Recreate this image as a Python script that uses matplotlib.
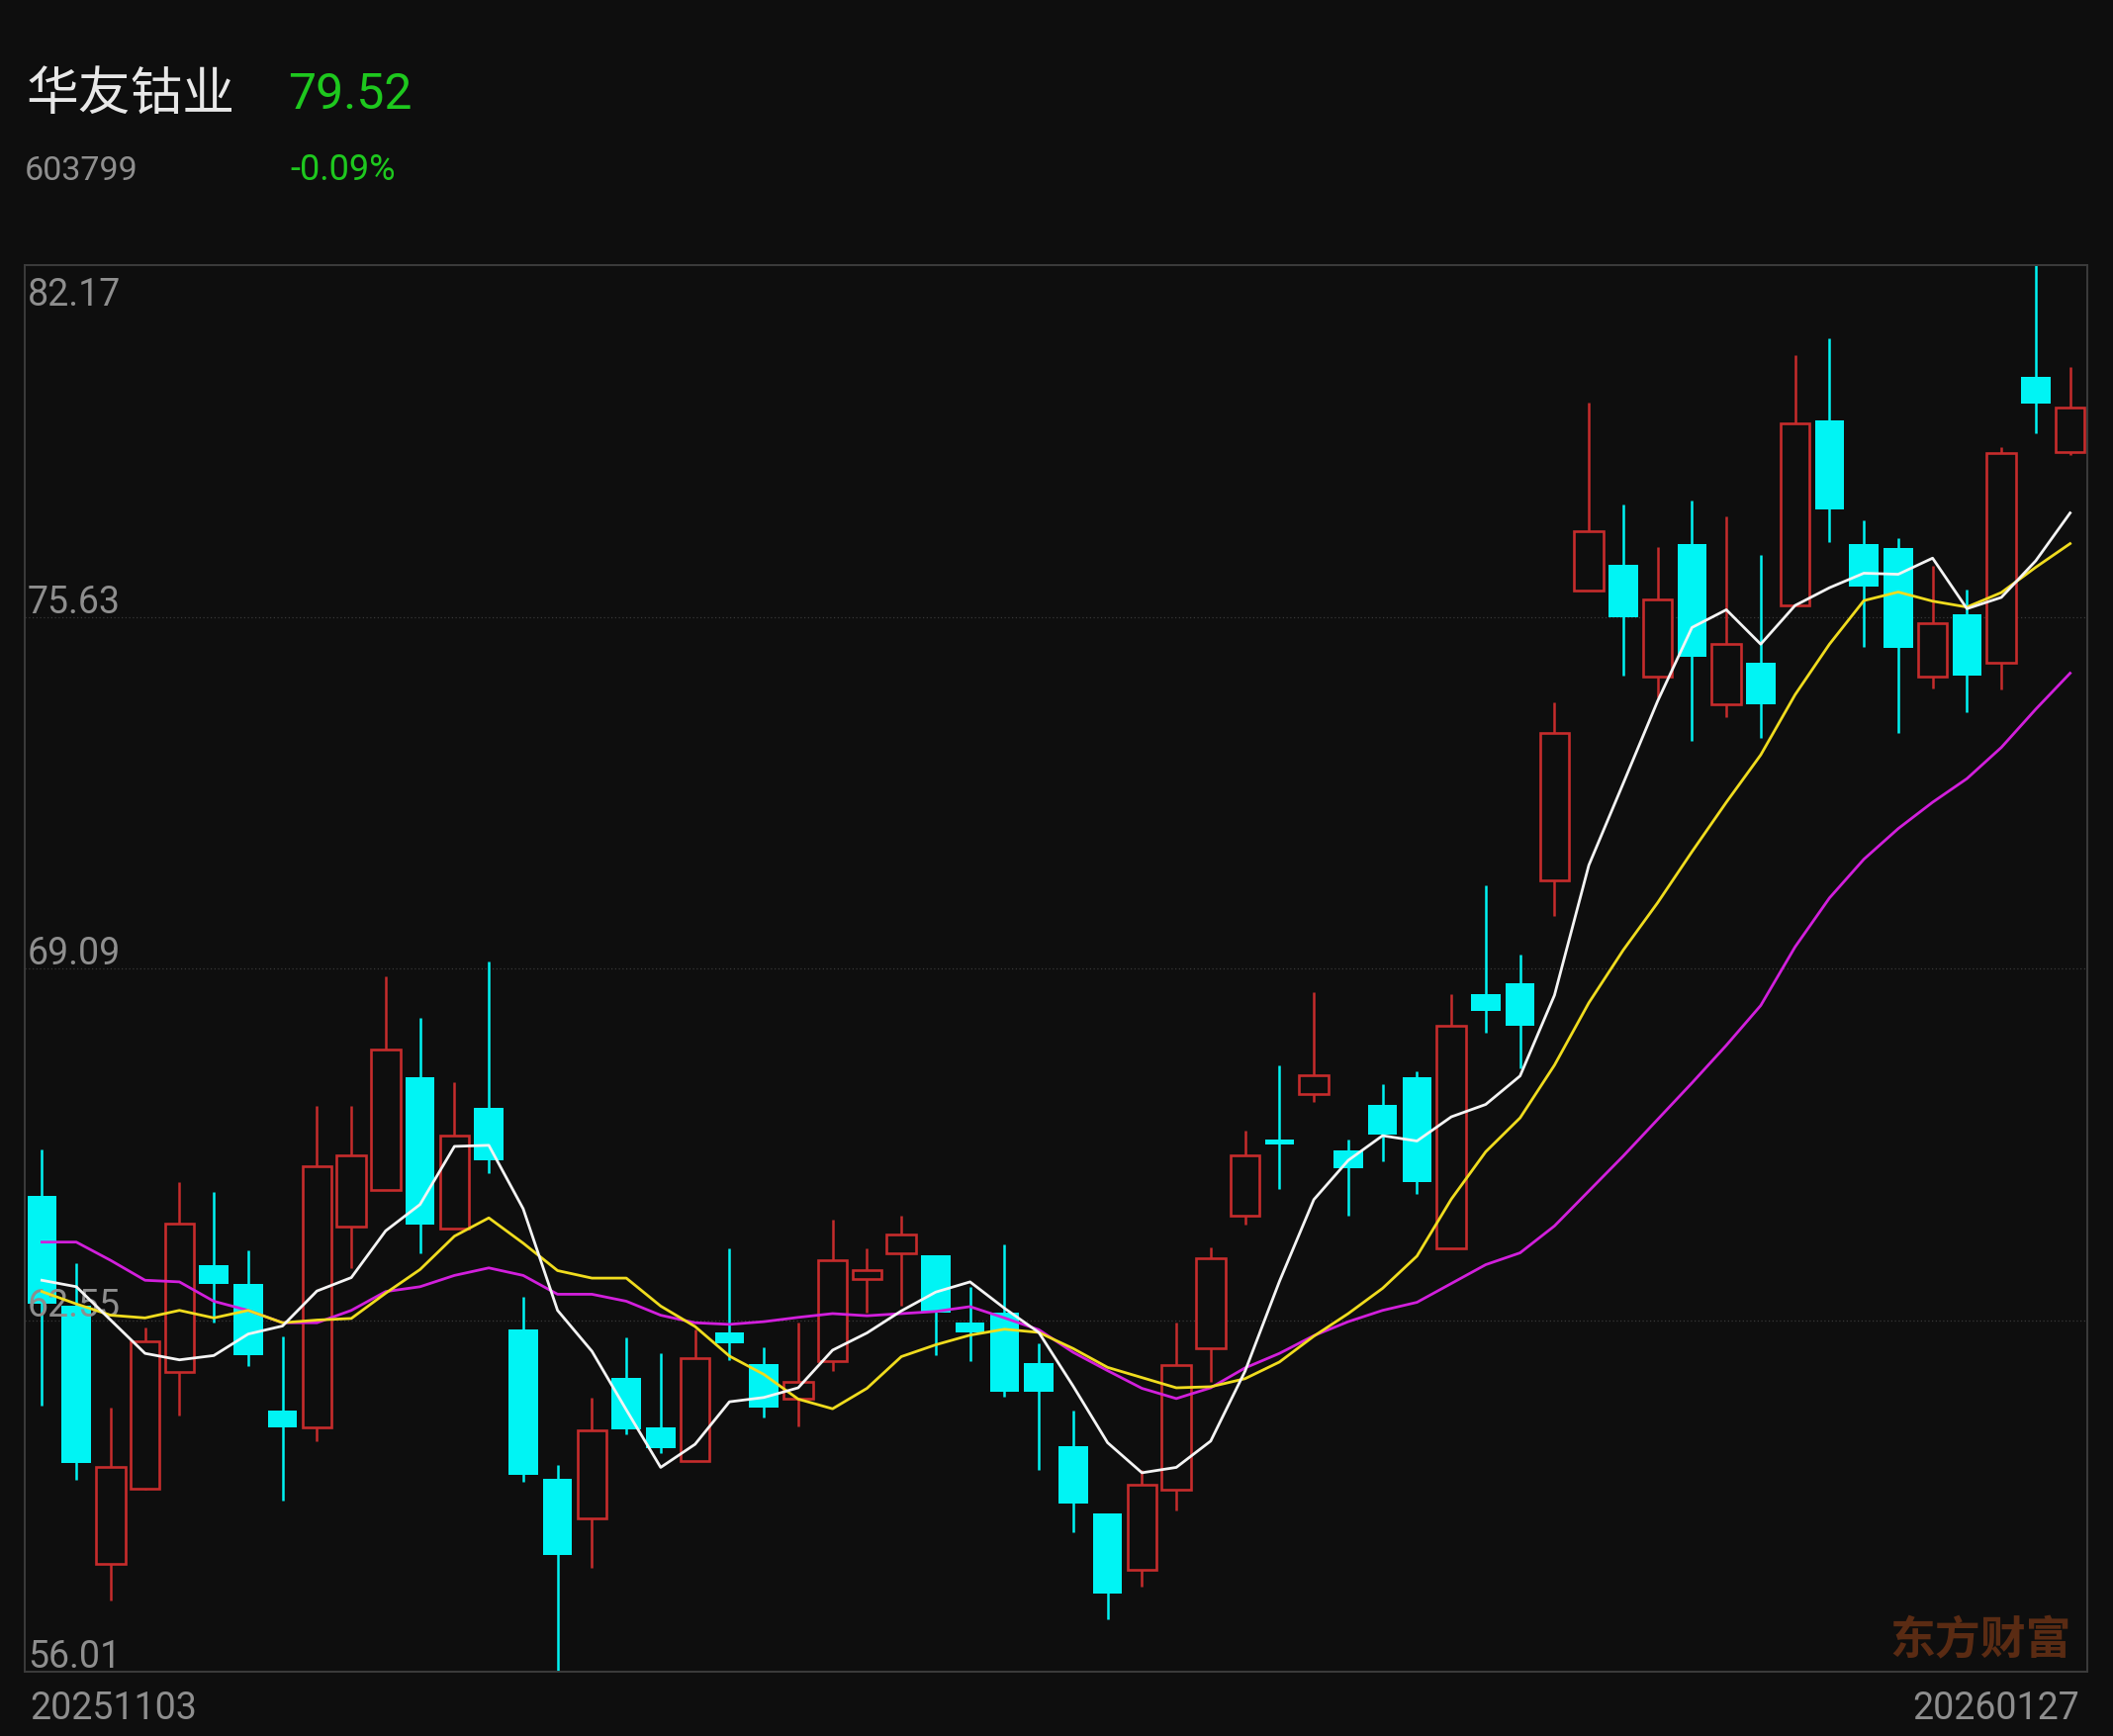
import matplotlib
matplotlib.use('Agg')
import matplotlib.pyplot as plt
from matplotlib.transforms import offset_copy

# 华友钴业 603799, daily candles 20251103 - 20260127
name = '华友钴业'
code = '603799'
last_price = '79.52'
last_change = '-0.09%'
date_first = '20251103'
date_last = '20260127'

opens = [64.85, 62.81, 58.01, 59.42, 61.58, 63.57, 63.22, 60.87, 60.55, 64.28,
         64.97, 67.06, 64.26, 66.49, 62.37, 59.60, 58.87, 61.47, 60.55, 59.93,
         62.32, 61.74, 61.08, 61.79, 63.31, 63.79, 63.75, 62.50, 62.69, 61.75,
         60.20, 58.96, 57.90, 59.40, 62.02, 64.49, 65.91, 66.76, 65.70, 66.56,
         67.06, 63.88, 68.61, 68.82, 70.73, 76.11, 76.60, 74.52, 76.99, 74.00,
         74.78, 75.84, 79.29, 76.99, 76.90, 74.52, 75.68, 74.78, 80.10, 78.69]
highs = [65.73, 63.61, 60.92, 62.41, 65.11, 64.94, 63.84, 62.25, 66.53, 66.53,
         68.95, 68.17, 66.97, 69.21, 62.99, 59.85, 61.10, 62.23, 61.93, 62.37,
         63.88, 62.05, 62.50, 64.41, 63.88, 64.49, 63.75, 63.17, 63.96, 62.11,
         60.87, 58.96, 59.77, 62.50, 63.91, 66.08, 67.29, 68.65, 65.91, 66.93,
         67.18, 68.61, 70.63, 69.35, 74.04, 79.61, 77.72, 76.92, 77.79, 77.49,
         76.78, 80.49, 80.81, 77.43, 77.10, 76.57, 76.13, 78.78, 82.17, 80.28]
lows = [60.96, 59.58, 57.34, 59.40, 60.78, 62.50, 61.70, 59.19, 60.29, 63.52,
        64.97, 63.79, 64.26, 65.29, 59.54, 56.01, 57.95, 60.43, 60.07, 59.93,
        61.81, 60.73, 60.57, 61.61, 62.69, 62.81, 61.90, 61.79, 61.13, 59.77,
        58.61, 56.98, 57.60, 59.01, 61.40, 64.32, 64.99, 66.61, 64.49, 65.50,
        64.90, 63.88, 67.89, 67.23, 70.06, 76.11, 74.53, 74.13, 73.33, 73.77,
        73.38, 75.84, 77.01, 75.06, 73.47, 74.30, 73.86, 74.27, 79.04, 78.64]
closes = [62.85, 59.90, 59.81, 62.16, 64.35, 63.22, 61.90, 60.55, 65.41, 65.61,
          67.59, 64.32, 65.98, 65.52, 59.67, 58.18, 60.50, 60.52, 60.16, 61.84,
          62.11, 60.92, 61.40, 63.66, 63.47, 64.14, 62.69, 62.32, 61.22, 61.22,
          59.14, 57.46, 59.49, 61.72, 63.70, 65.61, 65.82, 67.11, 65.38, 66.00,
          65.11, 68.03, 68.29, 68.03, 73.47, 77.22, 75.63, 75.95, 74.89, 75.13,
          74.00, 79.22, 77.63, 76.20, 75.05, 75.51, 74.53, 78.67, 79.59, 79.52]

ma5 = [63.29, 63.17, 62.55, 61.93, 61.81, 61.89, 62.29, 62.44, 63.09, 63.34,
       64.21, 64.70, 65.78, 65.80, 64.62, 62.73, 61.97, 60.88, 59.81, 60.24,
       61.03, 61.11, 61.29, 61.99, 62.31, 62.72, 63.07, 63.26, 62.77, 62.32,
       61.32, 60.27, 59.71, 59.81, 60.30, 61.60, 63.27, 64.79, 65.52, 65.98,
       65.88, 66.33, 66.56, 67.09, 68.59, 71.01, 72.53, 74.06, 75.43, 75.76,
       75.12, 75.84, 76.17, 76.44, 76.42, 76.72, 75.78, 75.99, 76.67, 77.56]
ma10 = [63.08, 62.85, 62.64, 62.59, 62.73, 62.59, 62.73, 62.50, 62.55, 62.58,
        63.05, 63.49, 64.11, 64.45, 63.98, 63.47, 63.33, 63.33, 62.81, 62.43,
        61.88, 61.54, 61.08, 60.90, 61.28, 61.87, 62.09, 62.27, 62.38, 62.32,
        62.02, 61.67, 61.48, 61.29, 61.31, 61.46, 61.77, 62.25, 62.67, 63.14,
        63.74, 64.80, 65.68, 66.31, 67.29, 68.45, 69.43, 70.31, 71.26, 72.18,
        73.06, 74.18, 75.12, 75.93, 76.09, 75.92, 75.81, 76.08, 76.55, 76.99]
ma20 = [64.00, 64.00, 63.66, 63.29, 63.26, 62.90, 62.73, 62.50, 62.50, 62.73,
        63.08, 63.17, 63.38, 63.52, 63.38, 63.03, 63.03, 62.90, 62.64, 62.50,
        62.47, 62.52, 62.60, 62.67, 62.63, 62.67, 62.71, 62.80, 62.59, 62.37,
        61.95, 61.61, 61.28, 61.09, 61.29, 61.66, 61.93, 62.26, 62.52, 62.73,
        62.88, 63.23, 63.58, 63.80, 64.30, 64.95, 65.60, 66.28, 66.96, 67.66,
        68.40, 69.49, 70.40, 71.12, 71.69, 72.18, 72.62, 73.20, 73.91, 74.58]

y_ticks = [82.17, 75.63, 69.09, 62.55, 56.01]

bg = '#0e0e0e'
red = '#c62c2c'
cyan = '#00f4f4'
green = '#1ec81e'
gray = '#8e8e8e'

plt.rcParams['font.family'] = ['Roboto', 'Noto Sans CJK SC', 'DejaVu Sans']

W, H = 2136, 1755
fig = plt.figure(figsize=(W / 100, H / 100), dpi=100, facecolor=bg)


def px(x, y):
    return x / W, 1 - y / H


ax = fig.add_axes([25 / W, 1 - 1690 / H, 2085 / W, (1690 - 268) / H])
ax.set_facecolor(bg)
ax.set_xlim(-0.5, len(closes) - 0.5)
ax.set_ylim(y_ticks[-1], y_ticks[0])
ax.set_xticks([])
ax.set_yticks([])
for s in ax.spines.values():
    s.set_color('#3c3c3c')
    s.set_linewidth(1.4)

for v in y_ticks[1:-1]:
    ax.axhline(v, color='#383838', lw=0.9, ls=(0, (1, 2)), zorder=1)

# candles
w = 0.845
for i in range(len(closes)):
    o, h, l, c = opens[i], highs[i], lows[i], closes[i]
    top, bot = max(o, c), min(o, c)
    if c >= o:
        ax.vlines(i, top, h, color=red, lw=1.8, zorder=2)
        ax.vlines(i, l, bot, color=red, lw=1.8, zorder=2)
        ax.bar(i, top - bot, bottom=bot, width=w, facecolor=bg,
               edgecolor=red, linewidth=1.9, zorder=2)
    else:
        ax.vlines(i, l, h, color=cyan, lw=1.8, zorder=2)
        ax.bar(i, top - bot, bottom=bot, width=w, color=cyan,
               linewidth=0, zorder=2)

# y labels inside the plot
for k, v in enumerate(y_ticks):
    dy = -41 if k == 0 else 4
    tr = offset_copy(ax.get_yaxis_transform(), fig=fig, x=3, y=dy, units='dots')
    ax.text(0, v, f'{v:.2f}', transform=tr, ha='left', va='baseline',
            fontsize=27, color=gray, zorder=3)

x = list(range(len(closes)))
ax.plot(x, ma20, color='#d21fdc', lw=2.0, zorder=4)
ax.plot(x, ma10, color='#f0dc1e', lw=2.0, zorder=4)
ax.plot(x, ma5, color='#f4f4f4', lw=2.0, zorder=4)

# header
fig.text(*px(27, 111), name, fontsize=38, color='#e8e8e8', ha='left',
         va='baseline', family=['Noto Sans CJK SC', 'DejaVu Sans'])
fig.text(*px(291, 110), last_price, fontsize=36, color=green, ha='left', va='baseline')
fig.text(*px(25, 182), code, fontsize=24.5, color=gray, ha='left', va='baseline')
fig.text(*px(293, 182), last_change, fontsize=26, color=green, ha='left', va='baseline')

# dates
fig.text(*px(30, 1738), date_first, fontsize=27, color=gray, ha='left', va='baseline')
fig.text(*px(2102, 1738), date_last, fontsize=27, color=gray, ha='right', va='baseline')

# watermark
fig.text(*px(2094, 1672), '东方财富', fontsize=33, fontweight='bold', color='#5a2b13',
         ha='right', va='baseline', family=['Noto Sans CJK SC', 'DejaVu Sans'], zorder=1)

fig.savefig('out.png', dpi=100, facecolor=bg)
